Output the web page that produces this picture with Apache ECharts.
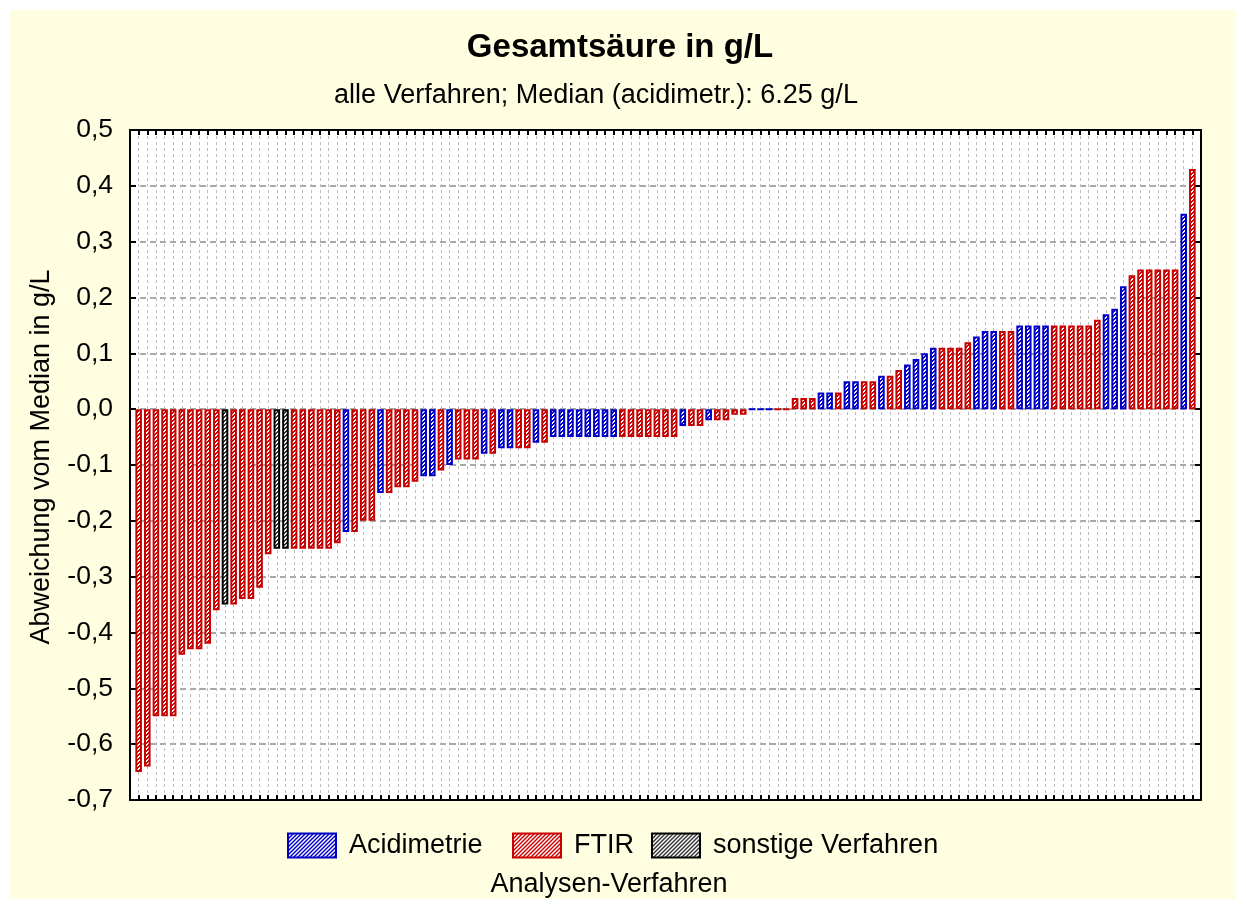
<!DOCTYPE html>
<html><head><meta charset="utf-8">
<script src="https://cdn.jsdelivr.net/npm/echarts/dist/echarts.min.js"></script>
<style>
html,body{margin:0;padding:0;background:#ffffff;}
#c{position:absolute;left:10px;top:10px;width:1226px;height:889px;}
</style></head><body><div id="c"></div>
<script>
// ---- data ----
const deviations = [
 -0.65,-0.64,-0.55,-0.55,-0.55,-0.44,-0.43,-0.43,-0.42,-0.36,
 -0.35,-0.35,-0.34,-0.34,-0.32,-0.26,-0.25,-0.25,-0.25,-0.25,
 -0.25,-0.25,-0.25,-0.24,-0.22,-0.22,-0.20,-0.20,-0.15,-0.15,
 -0.14,-0.14,-0.13,-0.12,-0.12,-0.11,-0.10,-0.09,-0.09,-0.09,
 -0.08,-0.08,-0.07,-0.07,-0.07,-0.07,-0.06,-0.06,-0.05,-0.05,
 -0.05,-0.05,-0.05,-0.05,-0.05,-0.05,-0.05,-0.05,-0.05,-0.05,
 -0.05,-0.05,-0.05,-0.03,-0.03,-0.03,-0.02,-0.02,-0.02,-0.01,
 -0.01,0,0,0,0,0,0.02,0.02,0.02,0.03,
 0.03,0.03,0.05,0.05,0.05,0.05,0.06,0.06,0.07,0.08,
 0.09,0.10,0.11,0.11,0.11,0.11,0.12,0.13,0.14,0.14,
 0.14,0.14,0.15,0.15,0.15,0.15,0.15,0.15,0.15,0.15,
 0.15,0.16,0.17,0.18,0.22,0.24,0.25,0.25,0.25,0.25,
 0.25,0.35,0.43];
// A = Acidimetrie, F = FTIR, S = sonstige Verfahren
const methodCodes = (
 "FFFFFFFFFF" + "SFFFFFSSFF" + "FFFFAFFFAF" + "FFFAAFAFFF" + "AFAAFFAFAA" +
 "AAAAAAFFFF" + "FFFAFFAFFF" + "FAAAFFFFFA" + "AFAAFFAFFA" + "AAAFFFFAAA" +
 "FFAAAAFFFF" + "FFAAAFFFFF" + "FAF").split('');
const labs = deviations.map((_, i) => i + 1);   // lab positions 1..123
const seriesNames = ['Acidimetrie', 'FTIR', 'sonstige Verfahren'];
const seriesCodes = ['A', 'F', 'S'];
const yTickMin = -0.7, yTickMax = 0.5, yTickStep = 0.1;

const titleText = 'Gesamtsäure in g/L';
const subtitleText = 'alle Verfahren; Median (acidimetr.): 6.25 g/L';
const yName = 'Abweichung vom Median in g/L';
const xName = 'Analysen-Verfahren';

// ---- styles ----
const FONT = '"Liberation Sans", Arial, Helvetica, sans-serif';
const borderColors = ['#0000C8', '#C80000', '#000000'];
const stripeColors = ['#0000C8', '#C80000', '#333333'];
const legendLefts = [272, 497, 636];

function hatch(color) {
  const c = document.createElement('canvas');
  c.width = 4; c.height = 4;
  const ctx = c.getContext('2d');
  ctx.fillStyle = '#ffffff'; ctx.fillRect(0, 0, 4, 4);
  ctx.fillStyle = color;
  for (let x = 0; x < 4; x++) for (let y = 0; y < 4; y++)
    if (((x + y) % 4) < 2) ctx.fillRect(x, y, 1, 1);
  return c;
}

const series = seriesNames.map((name, k) => ({
  name: name,
  type: 'bar',
  barWidth: 6.6,
  barMaxWidth: 20,
  barGap: '-100%',
  xAxisIndex: 0, yAxisIndex: 0,
  itemStyle: {
    color: { image: hatch(stripeColors[k]), repeat: 'repeat' },
    borderColor: borderColors[k],
    borderWidth: 2
  },
  emphasis: { disabled: true },
  data: deviations.map((v, i) => [labs[i], v]).filter((d, i) => methodCodes[i] === seriesCodes[k])
}));

const legends = seriesNames.map((name, k) => ({
  data: [name],
  left: legendLefts[k], top: 817,
  icon: 'rect',
  itemWidth: 48, itemHeight: 24, itemGap: 0,
  selectedMode: false,
  textStyle: { fontSize: 27, color: '#000', fontFamily: FONT, padding: [0, 0, 0, 8] },
  itemStyle: { borderWidth: 2 }
}));

const chart = echarts.init(document.getElementById('c'), null, { renderer: 'canvas' });
const xCommon = {
  type: 'value', min: 0, max: labs.length + 1, interval: 1,
  axisLine: { onZero: false, lineStyle: { color: '#000', width: 2 } },
  axisTick: { show: true, inside: true, length: 5, lineStyle: { color: '#000', width: 2 } },
  axisLabel: { show: false }
};
const yCommon = {
  type: 'value', min: yTickMin, max: yTickMax, interval: yTickStep,
  axisLine: { show: true, onZero: false, lineStyle: { color: '#000', width: 2 } },
  axisTick: { show: true, inside: true, length: 6, lineStyle: { color: '#000', width: 2 } }
};
chart.setOption({
  animation: false,
  backgroundColor: '#FFFEE0',
  textStyle: { fontFamily: FONT },
  grid: {
    left: 120, right: 35, top: 120, bottom: 99,
    show: true, backgroundColor: '#ffffff', borderWidth: 0,
    containLabel: false, outerBoundsMode: 'none'
  },
  xAxis: [
    Object.assign({}, xCommon, {
      position: 'bottom',
      splitLine: { show: true, lineStyle: { color: '#bdbdbd', width: 1, type: [3, 3] } }
    }),
    Object.assign({}, xCommon, { position: 'top', splitLine: { show: false } })
  ],
  yAxis: [
    Object.assign({}, yCommon, {
      position: 'left',
      axisLabel: {
        show: true, margin: 17, color: '#000', fontSize: 26.5, fontFamily: FONT,
        formatter: v => (Math.abs(v) < 1e-9 ? 0 : v).toFixed(1).replace('.', ',')
      },
      splitLine: { show: true, lineStyle: { color: '#a8a8a8', width: 2, type: [6, 4] } }
    }),
    Object.assign({}, yCommon, {
      position: 'right', axisLabel: { show: false }, splitLine: { show: false }
    })
  ],
  legend: legends,
  graphic: [
    { type: 'text', x: 610, y: 38, silent: true,
      style: { text: titleText, font: 'bold 33px ' + FONT, fill: '#000', textAlign: 'center', textVerticalAlign: 'middle' } },
    { type: 'text', x: 586, y: 86, silent: true,
      style: { text: subtitleText, font: '27px ' + FONT, fill: '#000', textAlign: 'center', textVerticalAlign: 'middle' } },
    { type: 'text', x: 32, y: 447, rotation: Math.PI / 2, silent: true,
      style: { text: yName, font: '27px ' + FONT, fill: '#000', textAlign: 'center', textVerticalAlign: 'middle' } },
    { type: 'text', x: 599, y: 875, silent: true,
      style: { text: xName, font: '27px ' + FONT, fill: '#000', textAlign: 'center', textVerticalAlign: 'middle' } }
  ],
  series: series
});
</script>
</body></html>
